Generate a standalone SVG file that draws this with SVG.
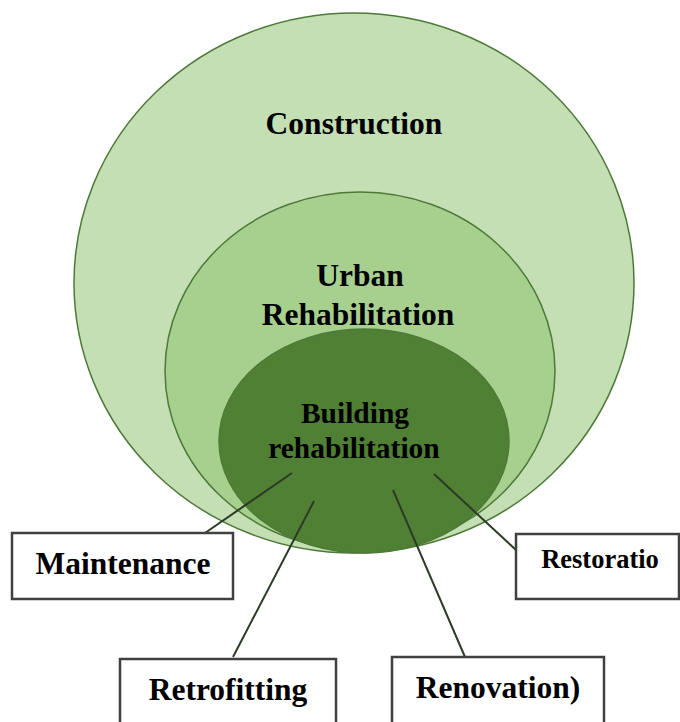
<svg xmlns="http://www.w3.org/2000/svg" width="680" height="722" viewBox="0 0 680 722">
  <style>
    .lbl { font-family: "Liberation Serif", "Times New Roman", serif; font-weight: bold; fill: #000; text-anchor: middle; }
    .ring { stroke: #4d7a38; stroke-width: 1.5; }
    .box { fill: #fff; stroke: #404040; stroke-width: 2.5; }
    .link { stroke: #2c3a26; stroke-width: 2; fill: none; }
  </style>
  <rect width="680" height="722" fill="#fff"/>

  <g id="construction">
    <ellipse class="ring" cx="354" cy="283" rx="280" ry="270" fill="#c4dfb4"/>
    <text class="lbl" x="354" y="134" font-size="31.5">Construction</text>
  </g>

  <g id="urban-rehabilitation">
    <ellipse class="ring" cx="360" cy="371" rx="195" ry="179" fill="#a7d08f"/>
    <text class="lbl" x="360" y="286" font-size="31.5">Urban</text>
    <text class="lbl" x="358" y="325" font-size="31.5">Rehabilitation</text>
  </g>

  <g id="building-rehabilitation">
    <ellipse class="ring" cx="364" cy="441" rx="145" ry="112" fill="#4f8034" stroke="#3f6a2a"/>
    <text class="lbl" x="355" y="423" font-size="29.5">Building</text>
    <text class="lbl" x="354" y="458" font-size="29.5">rehabilitation</text>
  </g>

  <g id="connectors">
    <line class="link" x1="292" y1="473" x2="205" y2="533"/>
    <line class="link" x1="314" y1="501" x2="233" y2="657"/>
    <line class="link" x1="393" y1="490" x2="465" y2="657"/>
    <line class="link" x1="434" y1="474" x2="516" y2="550"/>
  </g>

  <g id="maintenance">
    <rect class="box" x="12" y="533" width="221" height="66"/>
    <text class="lbl" x="123" y="574" font-size="31.5">Maintenance</text>
  </g>

  <g id="retrofitting">
    <rect class="box" x="120" y="659" width="216" height="70"/>
    <text class="lbl" x="228" y="700" font-size="31.5">Retrofitting</text>
  </g>

  <g id="renovation">
    <rect class="box" x="392" y="657" width="212" height="70"/>
    <text class="lbl" x="498" y="698" font-size="31.5">Renovation)</text>
  </g>

  <g id="restoration">
    <rect class="box" x="516" y="534" width="163" height="65"/>
    <text class="lbl" x="600" y="568" font-size="26.5">Restoratio</text>
  </g>
</svg>
